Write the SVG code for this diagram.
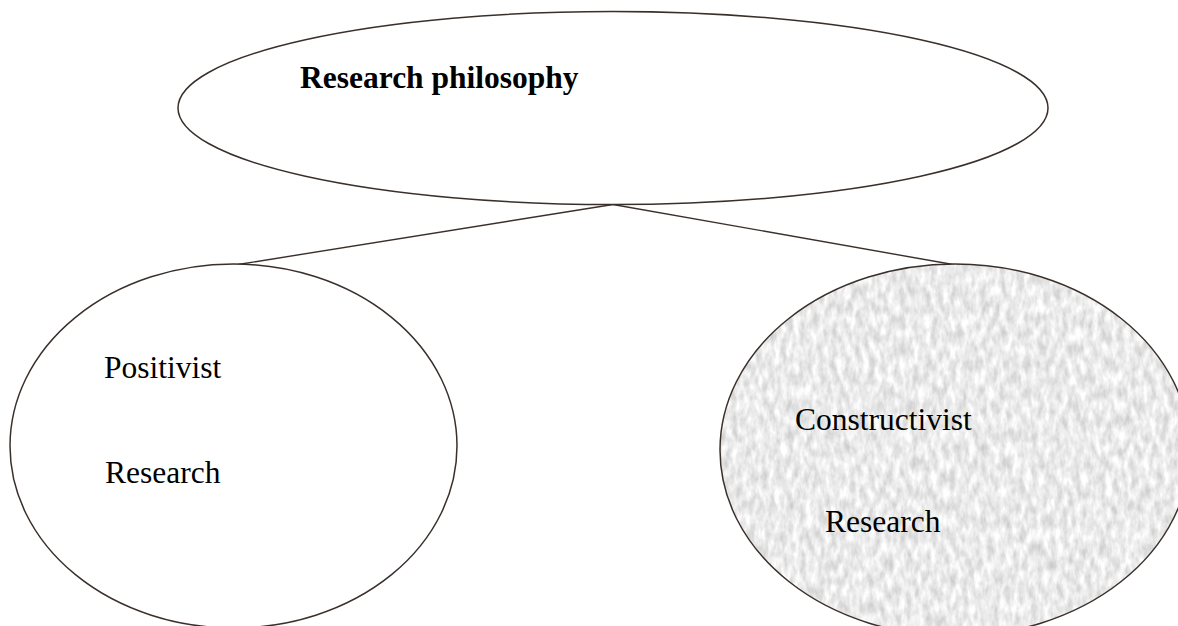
<svg xmlns="http://www.w3.org/2000/svg" width="1178" height="626" viewBox="0 0 1178 626">
  <style>
    .outline { fill: none; stroke: #3a302b; stroke-width: 1.5; }
    .plain { fill: #ffffff; stroke: #3a302b; stroke-width: 1.5; }
    .label { font-family: "Liberation Serif", "Times New Roman", serif; font-size: 31.5px; fill: #000000; }
    .title { font-weight: bold; }
    .link { stroke: #3a302b; stroke-width: 1.4; fill: none; }
  </style>
  <defs>
    <!-- speckled light-grey paper texture -->
    <filter id="grain" x="0" y="0" width="1" height="1" filterUnits="objectBoundingBox" color-interpolation-filters="sRGB">
      <feTurbulence type="fractalNoise" baseFrequency="0.16 0.07" numOctaves="3" seed="7" result="noise"/>
      <feColorMatrix in="noise" type="matrix" result="grey"
        values="0.32 0 0 0 0.76
                0.32 0 0 0 0.76
                0.32 0 0 0 0.76
                0 0 0 0 1"/>
      <feComposite in="grey" in2="SourceGraphic" operator="in"/>
    </filter>
  </defs>

  <rect width="1178" height="626" fill="#ffffff"/>

  <g id="connectors">
    <line class="link" x1="613" y1="204.5" x2="238" y2="264.5"/>
    <line class="link" x1="613" y1="204.5" x2="953" y2="264.5"/>
  </g>

  <g id="research-philosophy">
    <ellipse class="plain" cx="613" cy="108" rx="435" ry="96.5"/>
    <text class="label title" x="300" y="88">Research philosophy</text>
  </g>

  <g id="positivist-research">
    <ellipse class="plain" cx="233.5" cy="446" rx="223.5" ry="182"/>
    <text class="label" x="104" y="378">Positivist</text>
    <text class="label" x="105" y="483">Research</text>
  </g>

  <g id="constructivist-research">
    <ellipse cx="955" cy="450" rx="235" ry="186" fill="#000" filter="url(#grain)"/>
    <ellipse class="outline" cx="955" cy="450" rx="235" ry="186"/>
    <text class="label" x="795" y="430">Constructivist</text>
    <text class="label" x="825" y="532">Research</text>
  </g>
</svg>
